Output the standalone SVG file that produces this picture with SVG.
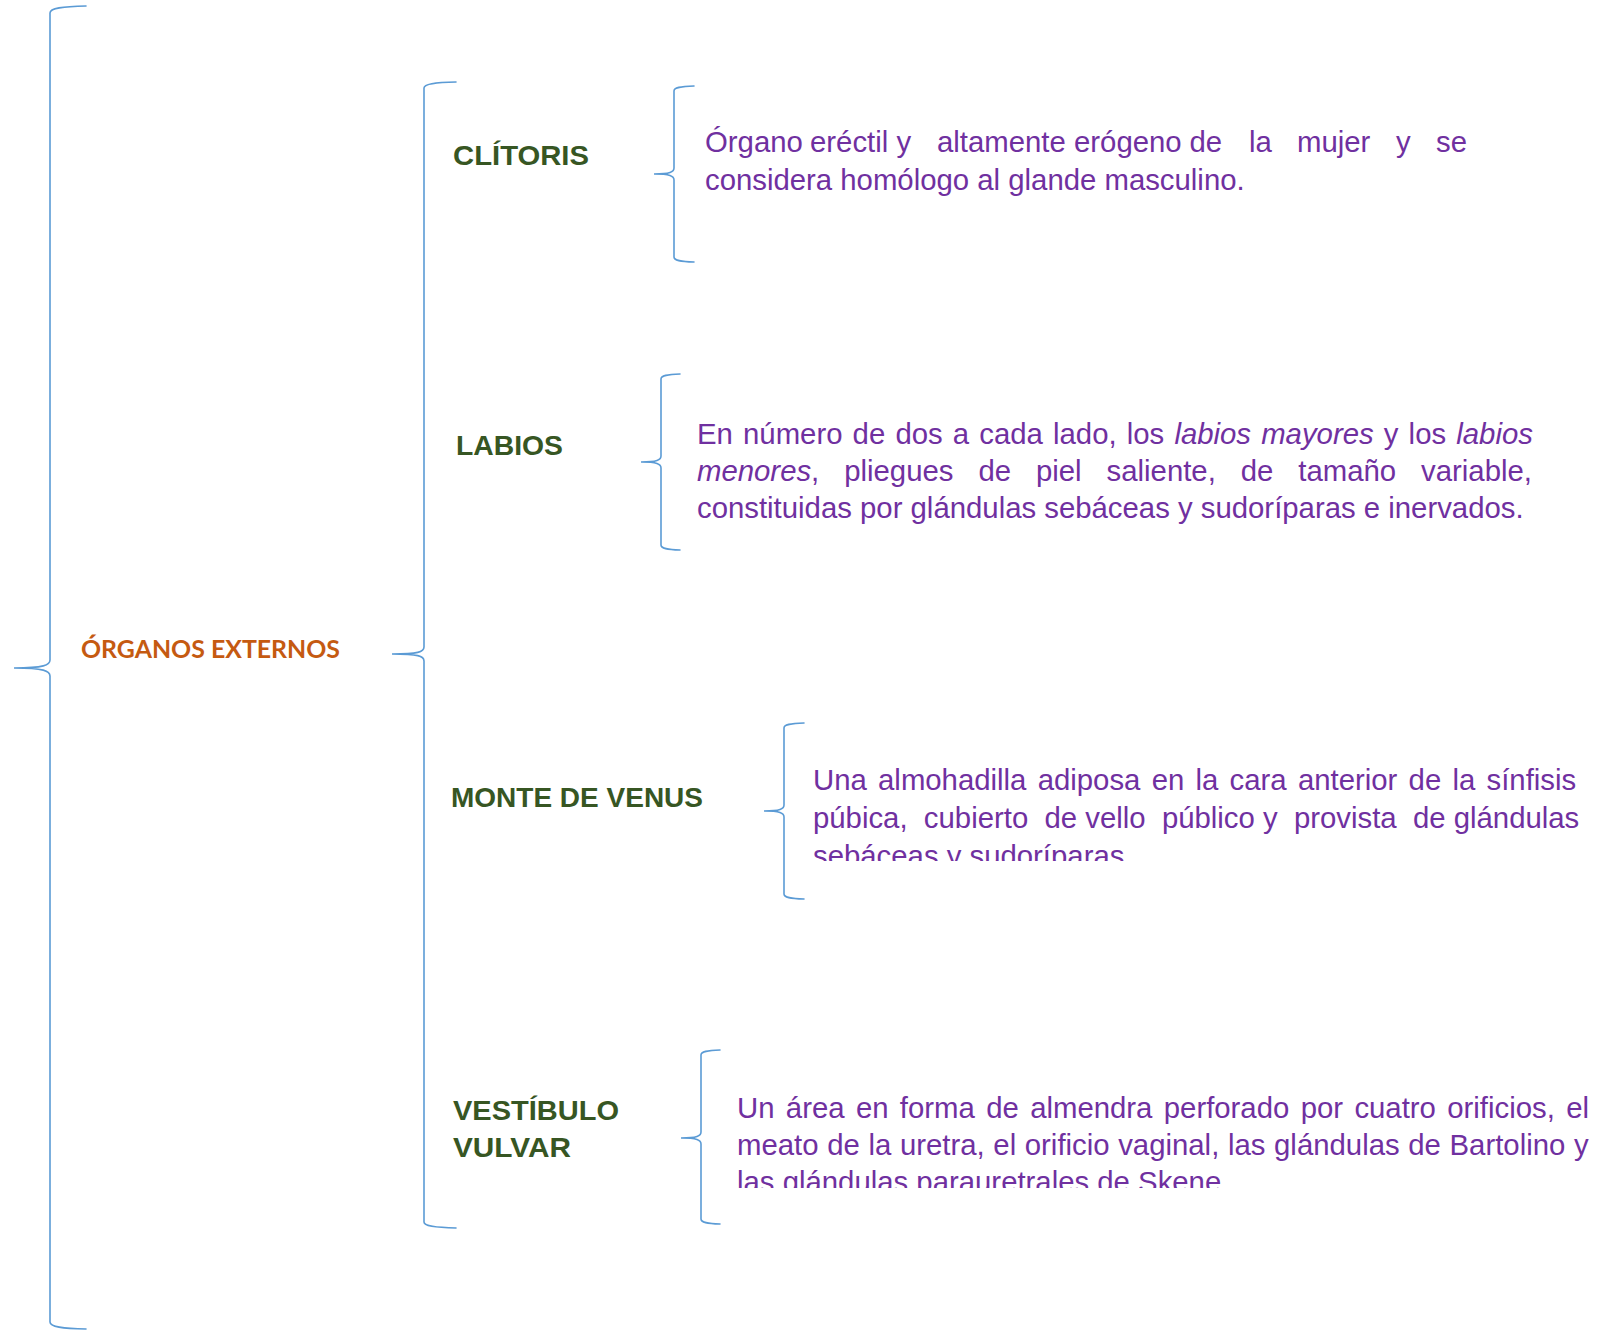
<svg xmlns="http://www.w3.org/2000/svg" width="1603" height="1331" viewBox="0 0 1603 1331">
<style>
.brace{fill:none;stroke:#5B9BD5;stroke-width:1.6;stroke-linecap:round}
.root{font-family:Lato,"Open Sans","Liberation Sans",sans-serif;font-weight:bold;font-size:25.5px;fill:#C55A11}
.lbl{font-family:"Liberation Sans",Arial,sans-serif;font-weight:bold;font-size:28.5px;fill:#375623}
.desc{font-family:"Liberation Sans",Arial,sans-serif;font-size:29.33px;fill:#7030A0}
.it{font-style:italic}
</style>
<defs>
<clipPath id="clipMonte"><rect x="800" y="700" width="803" height="161"/></clipPath>
<clipPath id="clipVest"><rect x="720" y="1040" width="883" height="148"/></clipPath>
</defs>
<rect width="1603" height="1331" fill="#ffffff"/>
<g id="connectors">
<path class="brace" d="M86,6 C62,6.5 50,8 50,13 L50,660 C50,665 44,668 14,668 C44,668 50,671 50,676 L50,1322 C50,1327 62,1328.5 86,1329"/>
<path class="brace" d="M456,82 C434,82.5 424,84 424,88 L424,647 C424,652 418,654 392,654 C418,654 424,656 424,661 L424,1222 C424,1226 434,1227.5 456,1228"/>
<path class="brace" d="M694,86 C680,86.5 674,87.5 674,91 L674,168 C674,172 670,174 654,174 C670,174 674,176 674,180 L674,257 C674,260.5 680,261.5 694,262"/>
<path class="brace" d="M680,374 C667,374.5 661,375.5 661,379 L661,456 C661,460 657,462 641,462 C657,462 661,464 661,468 L661,545 C661,548.5 667,549.5 680,550"/>
<path class="brace" d="M804,723 C790,723.5 784,724.5 784,728 L784,805 C784,809 780,811 764,811 C780,811 784,813 784,817 L784,894 C784,897.5 790,898.5 804,899"/>
<path class="brace" d="M720,1050 C707,1050.5 701,1051.5 701,1055 L701,1132 C701,1136 697,1138 681,1138 C697,1138 701,1140 701,1144 L701,1219 C701,1222.5 707,1223.5 720,1224"/>
</g>
<g id="organos-externos">
<text class="root" x="81" y="658" textLength="259" lengthAdjust="spacingAndGlyphs">ÓRGANOS EXTERNOS</text>
</g>
<g id="clitoris">
<text class="lbl" x="453" y="165" textLength="136" lengthAdjust="spacingAndGlyphs">CLÍTORIS</text>
</g>
<g id="clitoris-desc">
<text class="desc" y="152"><tspan x="705">Órgano</tspan><tspan x="810">eréctil</tspan><tspan x="896.5">y</tspan><tspan x="937">altamente</tspan><tspan x="1074">erógeno</tspan><tspan x="1189.5">de</tspan><tspan x="1249">la</tspan><tspan x="1297">mujer</tspan><tspan x="1396">y</tspan><tspan x="1436">se</tspan></text>
<text class="desc" x="705" y="190">considera homólogo al glande masculino.</text>
</g>
<g id="labios">
<text class="lbl" x="456" y="455" textLength="107" lengthAdjust="spacingAndGlyphs">LABIOS</text>
</g>
<g id="labios-desc">
<text class="desc" x="697" y="444" word-spacing="2">En número de dos a cada lado, los <tspan class="it">labios mayores</tspan> y los <tspan class="it">labios</tspan></text>
<text class="desc" x="697" y="481" word-spacing="16.8"><tspan class="it">menores</tspan>, pliegues de piel saliente, de tamaño variable,</text>
<text class="desc" x="697" y="518">constituidas por glándulas sebáceas y sudoríparas e inervados.</text>
</g>
<g id="monte-de-venus">
<text class="lbl" x="451" y="807" textLength="252" lengthAdjust="spacingAndGlyphs">MONTE DE VENUS</text>
</g>
<g id="monte-desc" clip-path="url(#clipMonte)">
<text class="desc" x="813" y="790" word-spacing="3.1">Una almohadilla adiposa en la cara anterior de la sínfisis</text>
<text class="desc" x="813" y="828" xml:space="preserve">púbica,  cubierto  de vello  público y  provista  de glándulas</text>
<text class="desc" x="813" y="866">sebáceas y sudoríparas.</text>
</g>
<g id="vestibulo-vulvar">
<text class="lbl" x="453" y="1120" textLength="166" lengthAdjust="spacingAndGlyphs">VESTÍBULO</text>
<text class="lbl" x="453" y="1157" textLength="118" lengthAdjust="spacingAndGlyphs">VULVAR</text>
</g>
<g id="vestibulo-desc" clip-path="url(#clipVest)">
<text class="desc" x="737" y="1118" word-spacing="3.2">Un área en forma de almendra perforado por cuatro orificios, el</text>
<text class="desc" x="737" y="1155" word-spacing="0.5">meato de la uretra, el orificio vaginal, las glándulas de Bartolino y</text>
<text class="desc" x="737" y="1192">las glándulas parauretrales de Skene.</text>
</g>
</svg>
